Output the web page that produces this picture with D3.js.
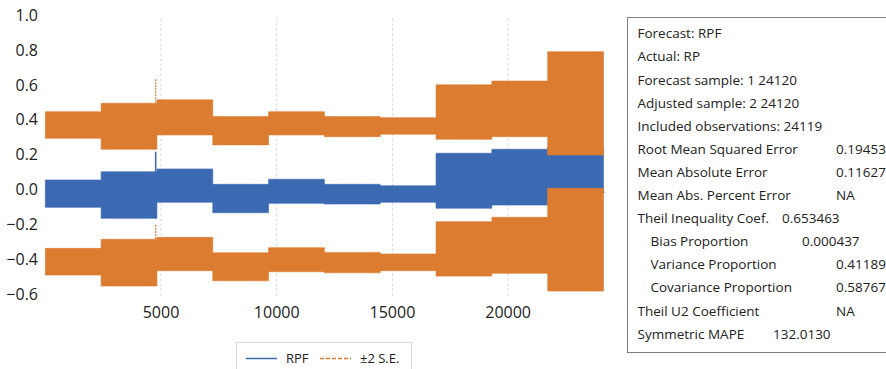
<!DOCTYPE html>
<html>
<head>
<meta charset="utf-8">
<script src="https://cdn.jsdelivr.net/npm/d3@7"></script>
<style>
  body { margin: 0; background: #fff; }
  text { font-family: "Open Sans", sans-serif; }
</style>
</head>
<body>
<div id="chart"></div>
<script>
// Observation ranges of the ten regimes (each 2412 obs)
const segmentBreaks = [1, 2412, 4824, 7236, 9648, 12060, 14472, 16884, 19296, 21708, 24120];

// Envelope of RPF (forecast) per regime
const rpfHigh = [0.073, 0.120, 0.136, 0.048, 0.077, 0.048, 0.040, 0.226, 0.249, 0.260];
const rpfLow  = [-0.084, -0.147, -0.055, -0.115, -0.061, -0.065, -0.055, -0.089, -0.071, 0.000];

// Envelope of RPF + 2 S.E.
const upperHigh = [0.464, 0.513, 0.532, 0.436, 0.464, 0.436, 0.430, 0.618, 0.640, 0.808];
const upperLow  = [0.312, 0.249, 0.331, 0.274, 0.331, 0.321, 0.335, 0.306, 0.321, 0.216];

// Envelope of RPF - 2 S.E.
const lowerHigh = [-0.319, -0.267, -0.256, -0.344, -0.315, -0.342, -0.351, -0.166, -0.141, 0.025];
const lowerLow  = [-0.472, -0.535, -0.447, -0.505, -0.453, -0.459, -0.447, -0.478, -0.462, -0.564];

// single outlier observation
const spikeObs = 4770;
const spikeRpf = [0.05, 0.235];
const spikeUpper = [0.45, 0.652];
const spikeLower = [-0.30, -0.185];

const xTicks = [5000, 10000, 15000, 20000];
const yTicks = [-0.6, -0.4, -0.2, 0.0, 0.2, 0.4, 0.6, 0.8, 1.0];

const legendNames = ["RPF", "\u00b12 S.E."];

const statLabels = [
  "Forecast: RPF", "Actual: RP", "Forecast sample: 1 24120", "Adjusted sample: 2 24120",
  "Included observations: 24119", "Root Mean Squared Error", "Mean Absolute Error",
  "Mean Abs. Percent Error", "Theil Inequality Coef.", "Bias Proportion",
  "Variance Proportion", "Covariance Proportion", "Theil U2 Coefficient", "Symmetric MAPE"
];
const statValues = ["", "", "", "", "", "0.194539", "0.116276", "NA", "0.653463",
  "0.000437", "0.411893", "0.587670", "NA", "132.0130"];

// layout of the stats table (indent + value column per row)
const statIndent = [0, 0, 0, 0, 0, 0, 0, 0, 0, 1, 1, 1, 0, 0];
const statValueX = [0, 0, 0, 0, 0, 836, 836, 836, 782, 802, 836, 836, 836, 773];

const width = 886, height = 369;
const blue = "#3b6ab3", orange = "#db7c30";

const svg = d3.select("#chart").append("svg")
  .attr("width", width)
  .attr("height", height);

const x = d3.scaleLinear().domain([0, 24120]).range([45.3, 603.5]);
const y = d3.scaleLinear().domain([-0.6, 1.0]).range([297.4, 18.2]);

// vertical gridlines
svg.append("g")
  .selectAll("line")
  .data(xTicks)
  .join("line")
  .attr("x1", d => x(d)).attr("x2", d => x(d))
  .attr("y1", y(1.0)).attr("y2", y(-0.6))
  .attr("stroke", "#d9d9d9")
  .attr("stroke-dasharray", "3,2");

// horizontal axis line at zero
svg.append("line")
  .attr("x1", x(0)).attr("x2", x(24120) + 2)
  .attr("y1", y(0)).attr("y2", y(0))
  .attr("stroke", "#bfbfbf");

// step data: one point per regime start + closing point at the end
function bandPoints(lo, hi) {
  const pts = lo.map((v, i) => ({ obs: segmentBreaks[i], lo: v, hi: hi[i] }));
  const last = lo.length - 1;
  pts.push({ obs: segmentBreaks[last + 1], lo: lo[last], hi: hi[last] });
  return pts;
}

const band = d3.area()
  .curve(d3.curveStepAfter)
  .x(d => x(d.obs))
  .y0(d => y(d.lo))
  .y1(d => y(d.hi));

function drawBand(lo, hi, color) {
  svg.append("path")
    .datum(bandPoints(lo, hi))
    .attr("d", band)
    .attr("fill", color)
    .attr("stroke", color)
    .attr("stroke-width", 0.6);
}

drawBand(rpfLow, rpfHigh, blue);
svg.append("line")
  .attr("x1", x(spikeObs)).attr("x2", x(spikeObs))
  .attr("y1", y(spikeRpf[0])).attr("y2", y(spikeRpf[1]))
  .attr("stroke", blue).attr("stroke-width", 1.5);

drawBand(upperLow, upperHigh, orange);
drawBand(lowerLow, lowerHigh, orange);
[spikeUpper, spikeLower].forEach(s => {
  svg.append("line")
    .attr("x1", x(spikeObs)).attr("x2", x(spikeObs))
    .attr("y1", y(s[0])).attr("y2", y(s[1]))
    .attr("stroke", orange).attr("stroke-width", 1.2)
    .attr("stroke-dasharray", "2,1");
});

// axis labels
svg.append("g")
  .selectAll("text")
  .data(yTicks)
  .join("text")
  .attr("x", 38)
  .attr("y", d => y(d) - 3.5)
  .attr("text-anchor", "end")
  .attr("dominant-baseline", "central")
  .attr("font-size", 16)
  .attr("fill", "#222")
  .text(d3.format(".1f"));

svg.append("g")
  .selectAll("text")
  .data(xTicks)
  .join("text")
  .attr("x", d => x(d))
  .attr("y", 312)
  .attr("text-anchor", "middle")
  .attr("dominant-baseline", "central")
  .attr("font-size", 16)
  .attr("fill", "#222")
  .text(d => d);

// legend
const legend = svg.append("g");
legend.append("rect")
  .attr("x", 236.5).attr("y", 342.5)
  .attr("width", 175).attr("height", 40)
  .attr("fill", "#fff").attr("stroke", "#d9d9d9");
const legendX = [246, 320];
legendNames.forEach((name, i) => {
  legend.append("line")
    .attr("x1", legendX[i]).attr("x2", legendX[i] + 31)
    .attr("y1", 358.5).attr("y2", 358.5)
    .attr("stroke", i === 0 ? blue : orange)
    .attr("stroke-width", 1.5)
    .attr("stroke-dasharray", i === 0 ? null : "4,2");
  legend.append("text")
    .attr("x", legendX[i] + 40)
    .attr("y", 358)
    .attr("dominant-baseline", "central")
    .attr("font-size", 13)
    .attr("fill", "#222")
    .text(name);
});

// stats box
const stats = svg.append("g");
stats.append("rect")
  .attr("x", 627.5).attr("y", 17.5)
  .attr("width", 300).attr("height", 335)
  .attr("fill", "#fff").attr("stroke", "#7f7f7f");

const rowY = i => 33.3 + i * 23.1;
stats.selectAll("text.lbl")
  .data(statLabels)
  .join("text")
  .attr("class", "lbl")
  .attr("x", (d, i) => 637.5 + statIndent[i] * 13)
  .attr("y", (d, i) => rowY(i))
  .attr("dominant-baseline", "central")
  .attr("font-size", 13.5)
  .attr("fill", "#222")
  .text(d => d);

stats.selectAll("text.val")
  .data(statValues)
  .join("text")
  .attr("class", "val")
  .attr("x", (d, i) => statValueX[i])
  .attr("y", (d, i) => rowY(i))
  .attr("dominant-baseline", "central")
  .attr("font-size", 13.5)
  .attr("fill", "#222")
  .text(d => d);
</script>
</body>
</html>
